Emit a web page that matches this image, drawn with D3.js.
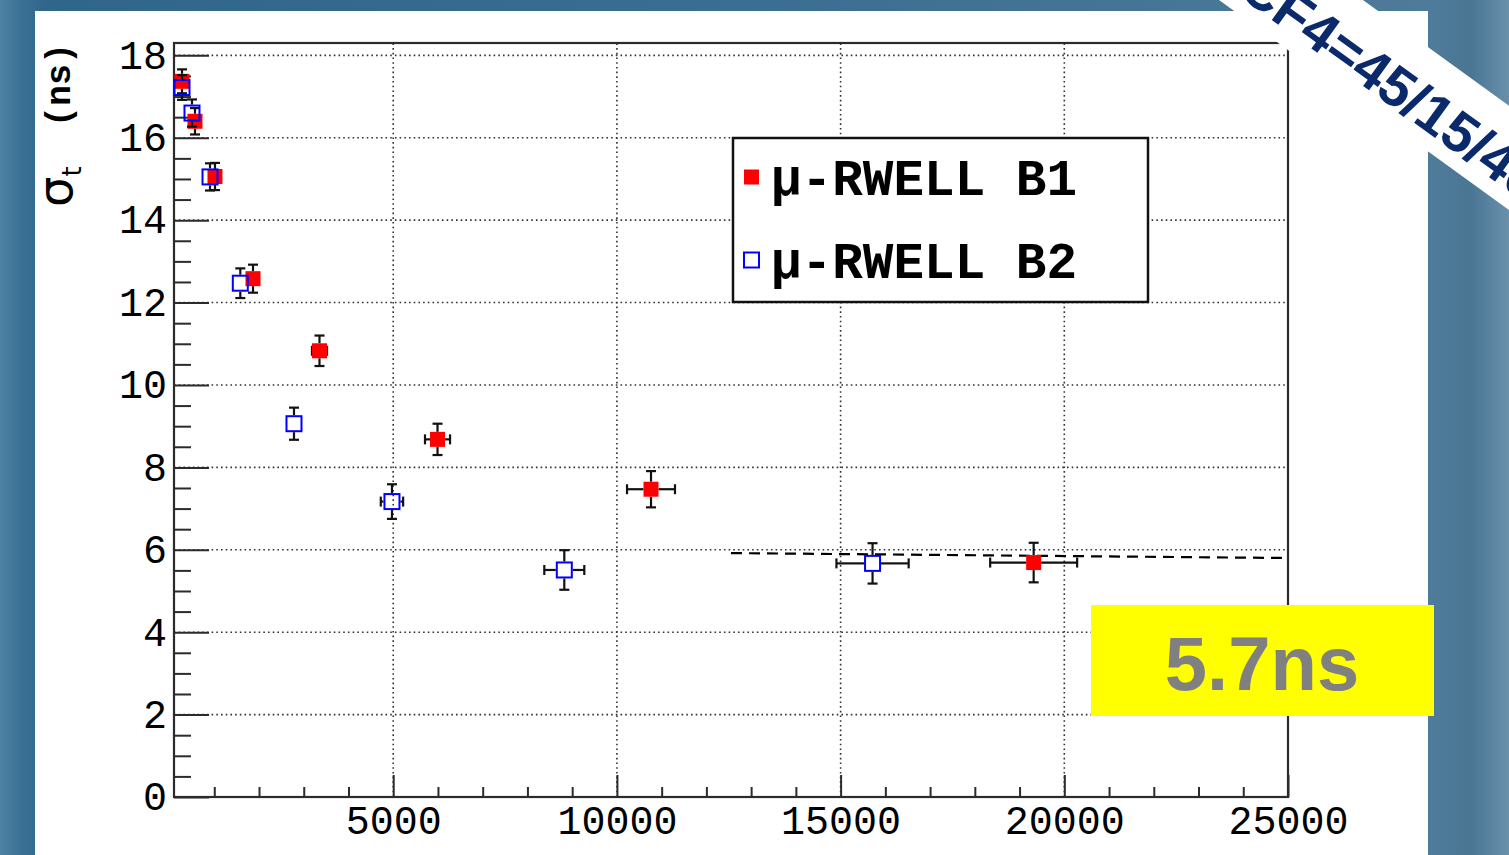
<!DOCTYPE html>
<html><head><meta charset="utf-8">
<script src="https://cdn.jsdelivr.net/npm/d3@7"></script>
<style>html,body{margin:0;padding:0;overflow:hidden;background:#3a6e92;}</style>
</head><body>
<svg id="chart" width="1509" height="855"></svg>
<script>
// ---- data ----
const b1X    = [279, 569, 1016, 1866, 3352, 5990, 10762, 19315];
const b1Y    = [17.37, 16.40, 15.06, 12.58, 10.83, 8.68, 7.47, 5.69];
const b1XErr = [14, 28, 50, 93, 168, 280, 536, 972];
const b1YErr = [0.29, 0.32, 0.33, 0.34, 0.37, 0.38, 0.44, 0.48];
const b2X    = [279, 502, 905, 1582, 2782, 4972, 8824, 15714];
const b2Y    = [17.22, 16.60, 15.05, 12.47, 9.06, 7.17, 5.51, 5.67];
const b2XErr = [14, 25, 45, 79, 139, 250, 447, 807];
const b2YErr = [0.30, 0.33, 0.33, 0.36, 0.39, 0.42, 0.48, 0.49];
const fitX   = [12550, 25000];
const fitY   = [5.92, 5.80];
const seriesNames = ["\u03bc-RWELL B1", "\u03bc-RWELL B2"];
const xMajorTicks = [5000, 10000, 15000, 20000, 25000];
const xMinorTicks = d3.range(1000, 25001, 1000).filter(v => v % 5000 !== 0);
const yMajorTicks = [0, 2, 4, 6, 8, 10, 12, 14, 16, 18];
const yMinorTicks = d3.range(0.5, 18.01, 0.5).filter(v => v % 2 !== 0);
const yTitle = ["\u03c3", "t", "(ns)"];
const gasLabel = ["Ar/CO2/CF4", "=45/15/40"];
const resultLabel = "5.7ns";

const svg = d3.select("#chart");
const W = 1509, H = 855;

// background
const defs = svg.append("defs");
const g0 = defs.append("linearGradient").attr("id","bg").attr("x1","0").attr("x2","1").attr("y1","0").attr("y2","0");
[[0,"#4d82a3"],[0.015,"#3a7094"],[0.03,"#30668a"],[0.5,"#3a6e92"],[0.95,"#4e7b99"],[0.975,"#4a7694"],[1,"#6890ab"]]
  .forEach(([o,c]) => g0.append("stop").attr("offset", o).attr("stop-color", c));
svg.append("rect").attr("width", W).attr("height", H).attr("fill", "url(#bg)");
svg.append("rect").attr("x", 35).attr("y", 11).attr("width", 1393).attr("height", H - 11).attr("fill", "#fff");

const x = d3.scaleLinear().domain([100, 25000]).range([174, 1288]);
const y = d3.scaleLinear().domain([0, 18.3]).range([797, 43]);
const axisCol = "#2b2b2b";

// grid
const grid = svg.append("g").attr("stroke", "#333").attr("stroke-width", 1.6).attr("stroke-dasharray", "1.6,3.1");
grid.selectAll("line.h").data(yMajorTicks.filter(v => v > 0)).join("line")
  .attr("x1", x.range()[0]).attr("x2", x.range()[1]).attr("y1", d => y(d)).attr("y2", d => y(d));
grid.selectAll("line.v").data(xMajorTicks.filter(v => v < 25000)).join("line")
  .attr("y1", y.range()[0]).attr("y2", y.range()[1]).attr("x1", d => x(d)).attr("x2", d => x(d));

// axes
function styleAxis(g){
  g.select(".domain").remove();
  g.selectAll(".tick line").attr("stroke", axisCol).attr("stroke-width", 2);
  g.selectAll(".tick text").attr("fill", "#000").attr("font-family", "'Liberation Mono', monospace")
    .attr("font-weight", "normal").attr("font-size", 40);
}
svg.append("g").attr("transform", `translate(${x.range()[0]},0)`)
  .call(d3.axisLeft(y).tickValues(yMajorTicks).tickSize(-35).tickPadding(7).tickFormat(d3.format("d")))
  .call(styleAxis);
svg.append("g").attr("transform", `translate(${x.range()[0]},0)`)
  .call(d3.axisLeft(y).tickValues(yMinorTicks).tickSize(-17).tickFormat(""))
  .call(styleAxis);
svg.append("g").attr("transform", `translate(0,${y.range()[0]})`)
  .call(d3.axisBottom(x).tickValues(xMajorTicks).tickSize(-22).tickPadding(9).tickFormat(d3.format("d")))
  .call(styleAxis);
svg.append("g").attr("transform", `translate(0,${y.range()[0]})`)
  .call(d3.axisBottom(x).tickValues(xMinorTicks).tickSize(-10).tickFormat(""))
  .call(styleAxis);

// frame
svg.append("rect").attr("x", x.range()[0]).attr("y", y.range()[1])
  .attr("width", x.range()[1] - x.range()[0]).attr("height", y.range()[0] - y.range()[1])
  .attr("fill", "none").attr("stroke", axisCol).attr("stroke-width", 2.2);

// y title
const yt = svg.append("text").attr("transform", "translate(72,207) rotate(-90)").attr("fill", "#000");
yt.append("tspan").attr("font-family", "'DejaVu Sans', sans-serif").attr("font-size", 48).text(yTitle[0]);
yt.append("tspan").attr("font-family", "'DejaVu Sans', sans-serif").attr("font-size", 26).attr("dy", 9).text(yTitle[1]);
svg.append("text").attr("transform", "translate(70,43) rotate(-90)").attr("text-anchor", "end")
  .attr("font-family", "'Liberation Mono', monospace").attr("font-weight", "bold").attr("font-size", 35).text(yTitle[2]);

// fit line
svg.append("path").datum(fitX.map((v, i) => [v, fitY[i]]))
  .attr("d", d3.line().x(d => x(d[0])).y(d => y(d[1])))
  .attr("fill", "none").attr("stroke", "#000").attr("stroke-width", 2.2).attr("stroke-dasharray", "11,7");

// data with error bars
function drawSeries(xs, ys, xe, ye, half, marker){
  const g = svg.append("g");
  const pts = xs.map((v, i) => ({cx: x(v), cy: y(ys[i]), xl: x(v - xe[i]), xr: x(v + xe[i]), yt: y(ys[i] + ye[i]), yb: y(ys[i] - ye[i])}));
  const eb = g.append("g").attr("stroke", "#111").attr("stroke-width", 2.2);
  const cap = 5;
  pts.forEach(p => {
    if (p.cy - p.yt > half) {
      eb.append("line").attr("x1", p.cx).attr("x2", p.cx).attr("y1", p.yt).attr("y2", p.cy - half);
      eb.append("line").attr("x1", p.cx).attr("x2", p.cx).attr("y1", p.cy + half).attr("y2", p.yb);
      eb.append("line").attr("x1", p.cx - cap).attr("x2", p.cx + cap).attr("y1", p.yt).attr("y2", p.yt);
      eb.append("line").attr("x1", p.cx - cap).attr("x2", p.cx + cap).attr("y1", p.yb).attr("y2", p.yb);
    }
    if (p.cx - p.xl > half) {
      eb.append("line").attr("y1", p.cy).attr("y2", p.cy).attr("x1", p.xl).attr("x2", p.cx - half);
      eb.append("line").attr("y1", p.cy).attr("y2", p.cy).attr("x1", p.cx + half).attr("x2", p.xr);
      eb.append("line").attr("y1", p.cy - cap).attr("y2", p.cy + cap).attr("x1", p.xl).attr("x2", p.xl);
      eb.append("line").attr("y1", p.cy - cap).attr("y2", p.cy + cap).attr("x1", p.xr).attr("x2", p.xr);
    }
  });
  g.selectAll("rect").data(pts).join("rect")
    .attr("x", d => d.cx - marker.s / 2).attr("y", d => d.cy - marker.s / 2)
    .attr("width", marker.s).attr("height", marker.s)
    .attr("fill", marker.fill).attr("stroke", marker.stroke).attr("stroke-width", marker.sw);
}
drawSeries(b1X, b1Y, b1XErr, b1YErr, 7.5, {s: 15, fill: "#ff0000", stroke: "none", sw: 0});
drawSeries(b2X, b2Y, b2XErr, b2YErr, 8.5, {s: 15, fill: "none", stroke: "#0000ff", sw: 2});

// legend
const lg = svg.append("g");
lg.append("rect").attr("x", 733).attr("y", 138).attr("width", 415).attr("height", 164)
  .attr("fill", "#fff").attr("stroke", "#111").attr("stroke-width", 2.5);
const legItems = [
  {name: seriesNames[0], fill: "#ff0000", stroke: "none", sw: 0, cy: 177},
  {name: seriesNames[1], fill: "none", stroke: "#0000ff", sw: 2, cy: 260}
];
legItems.forEach(it => {
  lg.append("rect").attr("x", 744).attr("y", it.cy - 7.5).attr("width", 15).attr("height", 15)
    .attr("fill", it.fill).attr("stroke", it.stroke).attr("stroke-width", it.sw);
  lg.append("text").attr("x", 771).attr("y", it.cy + 18).attr("font-family", "'Liberation Mono', monospace")
    .attr("font-weight", "bold").attr("font-size", 51).attr("fill", "#000").text(it.name);
});

// yellow box
svg.append("rect").attr("x", 1091).attr("y", 605).attr("width", 343).attr("height", 111).attr("fill", "#ffff00");
svg.append("text").attr("x", 1262).attr("y", 690).attr("text-anchor", "middle")
  .attr("font-family", "'Liberation Sans', Arial, sans-serif").attr("font-weight", "bold")
  .attr("font-size", 76).attr("fill", "#808080").text(resultLabel);

// diagonal banner
const ang = 35.9;
const band = svg.append("g").attr("transform", `translate(1219,0) rotate(${ang})`);
band.append("rect").attr("x", -400).attr("y", -84.4).attr("width", 1200).attr("height", 84.4).attr("fill", "#fff");
const u0 = 116;
["end", "start"].forEach((anchor, i) => {
  band.append("text").attr("x", u0).attr("y", -35).attr("dy", "0.36em").attr("text-anchor", anchor)
    .attr("font-family", "'Liberation Sans', Arial, sans-serif").attr("font-weight", "bold")
    .attr("font-size", 56).attr("fill", "#0b2a6b").text(gasLabel[i]);
});
</script>
</body></html>
